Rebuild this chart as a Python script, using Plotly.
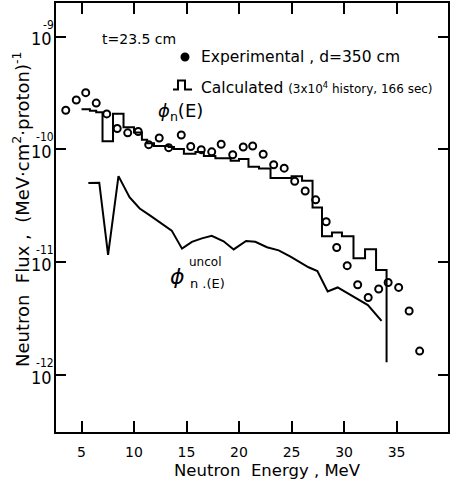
import math
import plotly.graph_objects as go

# ---------------- data ----------------
# Experimental points (neutron energy in MeV, flux in 1/(MeV cm^2 proton))
exp_energy = [3.5, 4.5, 5.4, 6.4, 7.4, 8.4, 9.4, 10.4, 11.4, 12.4, 13.3, 14.5,
              15.4, 16.4, 17.4, 18.3, 19.4, 20.4, 21.3, 22.3, 23.3, 24.3, 25.3,
              26.3, 27.3, 28.3, 29.3, 30.3, 31.3, 32.3, 33.3, 34.2, 35.2, 36.2, 37.2]
exp_flux = [2.22e-10, 2.74e-10, 3.18e-10, 2.57e-10, 2.06e-10, 1.53e-10, 1.40e-10,
            1.44e-10, 1.10e-10, 1.26e-10, 1.035e-10, 1.34e-10, 1.06e-10, 9.93e-11,
            9.5e-11, 1.11e-10, 8.95e-11, 1.05e-10, 1.07e-10, 9.04e-11, 7.31e-11,
            6.81e-11, 5.21e-11, 4.27e-11, 3.57e-11, 2.28e-11, 1.35e-11, 9.31e-12,
            6.31e-12, 4.86e-12, 5.79e-12, 6.61e-12, 5.98e-12, 3.69e-12, 1.63e-12]

# Calculated histogram: bin edges (MeV) and bin values
calc_edges = [5.0, 5.8, 6.4, 7.0, 8.0, 9.0, 10.0, 10.75, 11.25, 11.9, 13.3, 13.8,
              14.75, 15.85, 16.65, 17.75, 19.2, 20.0, 20.9, 21.9, 23.0, 25.0, 26.0,
              27.0, 27.9, 28.85, 29.8, 30.9, 32.0, 33.05, 34.05]
calc_flux = [2.265e-10, 2.20e-10, 2.13e-10, 1.178e-10, 2.07e-10, 1.57e-10, 1.41e-10,
             1.216e-10, 1.132e-10, 1.069e-10, 1.05e-10, 1.005e-10, 9.12e-11, 9.46e-11,
             8.75e-11, 8.34e-11, 7.93e-11, 8.22e-11, 7.01e-11, 6.78e-11, 5.58e-11,
             5.77e-11, 5.27e-11, 3.05e-11, 1.70e-11, 1.83e-11, 1.70e-11, 1.086e-11,
             1.30e-11, 8.53e-12]
calc_end_flux = 1.3e-12

# Uncollided flux curve
uncol_energy = [5.65, 6.69, 7.53, 8.52, 9.57, 10.54, 11.51, 12.57, 13.59, 14.57,
                15.51, 16.46, 17.40, 18.53, 19.49, 20.67, 21.55, 22.66, 23.78,
                24.90, 25.70, 26.62, 27.46, 28.44, 29.39, 30.35, 31.31, 32.27, 33.57]
uncol_flux = [5.04e-11, 5.06e-11, 1.16e-11, 5.79e-11, 3.77e-11, 2.99e-11, 2.60e-11,
              2.22e-11, 1.905e-11, 1.318e-11, 1.514e-11, 1.626e-11, 1.71e-11,
              1.53e-11, 1.297e-11, 1.54e-11, 1.517e-11, 1.358e-11, 1.274e-11,
              1.12e-11, 1.014e-11, 9.02e-12, 8.34e-12, 5.50e-12, 5.97e-12,
              5.31e-12, 4.65e-12, 4.17e-12, 3.02e-12]

x_ticks = [5, 10, 15, 20, 25, 30, 35]
y_ticks = [1e-12, 1e-11, 1e-10, 1e-9]
y_tick_exponents = ["-12", "-11", "-10", "-9"]

# ---------------- build step line ----------------
step_x, step_y = [], []
for i, v in enumerate(calc_flux):
    step_x += [calc_edges[i], calc_edges[i + 1]]
    step_y += [v, v]
step_x.append(calc_edges[-1])
step_y.append(calc_end_flux)

FONT = "DejaVu Sans"
NARROW = "DejaVu Sans Condensed, Liberation Sans Narrow, Liberation Sans"
W, H = 450, 483
ML, MR, MT, MB = 56, 2, 3, 51
PW, PH = W - ML - MR, H - MT - MB


def px(xp):
    return (xp - ML) / PW


def py(yp):
    return (H - MB - yp) / PH


fig = go.Figure()
fig.add_trace(go.Scatter(x=step_x, y=step_y, mode="lines",
                         line=dict(color="black", width=2), hoverinfo="skip"))
fig.add_trace(go.Scatter(x=uncol_energy, y=uncol_flux, mode="lines",
                         line=dict(color="black", width=2), hoverinfo="skip"))
fig.add_trace(go.Scatter(x=exp_energy, y=exp_flux, mode="markers",
                         marker=dict(symbol="circle-open", size=7, color="black",
                                     line=dict(width=2, color="black"))))

ann = []


def text(t, xp, yp, size, xanchor="center", yanchor="middle", angle=0, family=FONT):
    ann.append(dict(text=t, x=px(xp), y=py(yp), xref="paper", yref="paper",
                    showarrow=False, xanchor=xanchor, yanchor=yanchor,
                    textangle=angle, font=dict(family=family, size=size, color="black")))


# y tick labels: "10" with exponent placed above it
for v, e in zip(y_ticks, y_tick_exponents):
    ann.append(dict(text="10", x=px(54), y=math.log10(v), xref="paper", yref="y",
                    showarrow=False, xanchor="right", yanchor="middle", yshift=-2,
                    font=dict(family=NARROW, size=18, color="black")))
    ann.append(dict(text=e, x=px(55.5), y=math.log10(v), xref="paper", yref="y",
                    showarrow=False, xanchor="right", yanchor="middle", yshift=12,
                    font=dict(family=NARROW, size=12, color="black")))

text("t=23.5 cm", 100, 39, 14, xanchor="left")
text("Experimental , d=350 cm", 199, 57, 15.5, xanchor="left")
text("Calculated <span style='font-size:12px'>(3x10<sup>4</sup> history, 166 sec)</span>",
     199, 88, 15.5, xanchor="left")
text("<i>ϕ</i><sub>n</sub>(E)", 156, 112, 18, xanchor="left")
text("<i>ϕ</i>", 168, 276, 22, xanchor="left")
text("n .(E)", 188, 283, 13, xanchor="left")
text("uncol", 187, 262, 12, xanchor="left")
text("Neutron  Energy , MeV", 267, 471, 16.5)
text("Neutron  Flux ,  (MeV·cm<sup>2</sup>·proton)<sup>-1</sup>", 21, 209, 18, angle=-90)

shapes = [
    dict(type="circle", xref="paper", yref="paper",
         x0=px(181.5), x1=px(188.5), y0=py(53.5), y1=py(60.5),
         line=dict(color="black", width=2), fillcolor="black"),
    dict(type="path", xref="paper", yref="paper",
         path=(f"M {px(173):.4f},{py(89.5):.4f} L {px(178):.4f},{py(89.5):.4f} "
               f"L {px(178):.4f},{py(80.5):.4f} L {px(185):.4f},{py(80.5):.4f} "
               f"L {px(185):.4f},{py(89.5):.4f} L {px(192):.4f},{py(89.5):.4f}"),
         line=dict(color="black", width=2)),
]

fig.update_layout(
    width=W, height=H,
    margin=dict(l=ML, r=MR, t=MT, b=MB, autoexpand=False),
    paper_bgcolor="white", plot_bgcolor="white",
    showlegend=False,
    font=dict(family=FONT, color="black"),
    annotations=ann, shapes=shapes,
    xaxis=dict(range=[2.57, 39.9], tickvals=x_ticks, ticks="inside", ticklen=11,
               tickwidth=2, tickcolor="black", showline=True, linewidth=2,
               linecolor="black", mirror="ticks", showgrid=False, zeroline=False,
               automargin=False,
               tickfont=dict(family=FONT, size=14, color="black"),
               ticklabelstandoff=6),
    yaxis=dict(type="log", range=[-12.505, -8.703], tickvals=y_ticks,
               showticklabels=False, ticks="inside", ticklen=10, tickwidth=2,
               tickcolor="black", showline=True, linewidth=2, linecolor="black",
               mirror="ticks", showgrid=False, zeroline=False, automargin=False),
)

fig.write_html("out.html",
               config={"displayModeBar": False},
               post_script="document.body.style.margin='0px';"
                           "document.body.style.overflow='hidden';")
